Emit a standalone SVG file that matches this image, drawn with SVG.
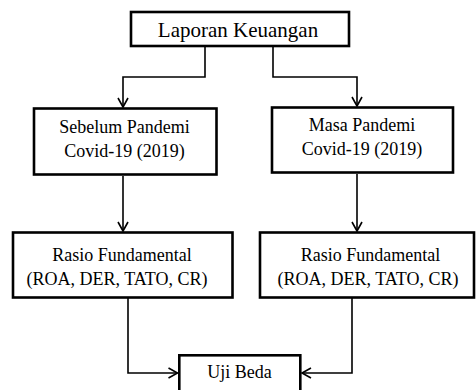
<svg xmlns="http://www.w3.org/2000/svg" width="476" height="390" viewBox="0 0 476 390">
<style>
.box{fill:#fff;stroke:#000;stroke-width:2.6}
.t{font-family:"Liberation Serif","Times New Roman",serif;font-size:18px;fill:#000;text-anchor:middle}
.c{fill:none;stroke:#000;stroke-width:1.6}
</style>
<defs>
<marker id="ah" markerUnits="userSpaceOnUse" markerWidth="12" markerHeight="12" refX="10" refY="5.5" orient="auto" viewBox="0 0 12 11">
<path d="M1,0.5 L10,5.5 L1,10.5" fill="none" stroke="#000" stroke-width="1.6"/>
</marker>
</defs>
<rect width="476" height="390" fill="#fff"/>
<g id="connectors">
<path class="c" d="M205,47 V77 H123 V107" marker-end="url(#ah)"/>
<path class="c" d="M273,47 V77 H357 V106" marker-end="url(#ah)"/>
<path class="c" d="M123,176 V231" marker-end="url(#ah)"/>
<path class="c" d="M357,174 V231" marker-end="url(#ah)"/>
<path class="c" d="M128,298 V373 H177.5" marker-end="url(#ah)"/>
<path class="c" d="M352,298 V373 H302" marker-end="url(#ah)"/>
</g>
<g id="laporan">
<rect class="box" x="131" y="12" width="218" height="34"/>
<text class="t" x="238" y="37" style="font-size:21px">Laporan Keuangan</text>
</g>
<g id="sebelum">
<rect class="box" x="34" y="108.5" width="182.5" height="66"/>
<text class="t" x="124.5" y="133">Sebelum Pandemi</text>
<text class="t" x="124.5" y="157">Covid-19 (2019)</text>
</g>
<g id="masa">
<rect class="box" x="272" y="107.5" width="181" height="65"/>
<text class="t" x="362" y="130.5">Masa Pandemi</text>
<text class="t" x="362" y="155">Covid-19 (2019)</text>
</g>
<g id="rasio-kiri">
<rect class="box" x="13" y="232.5" width="219.5" height="65"/>
<text class="t" x="122" y="261">Rasio Fundamental</text>
<text class="t" x="117" y="285">(ROA, DER, TATO, CR)</text>
</g>
<g id="rasio-kanan">
<rect class="box" x="260" y="232.5" width="214" height="65"/>
<text class="t" x="370.5" y="261">Rasio Fundamental</text>
<text class="t" x="368" y="284.5">(ROA, DER, TATO, CR)</text>
</g>
<g id="uji-beda">
<rect class="box" x="179.3" y="355.3" width="121" height="45"/>
<text class="t" x="239.5" y="378">Uji Beda</text>
</g>
</svg>
